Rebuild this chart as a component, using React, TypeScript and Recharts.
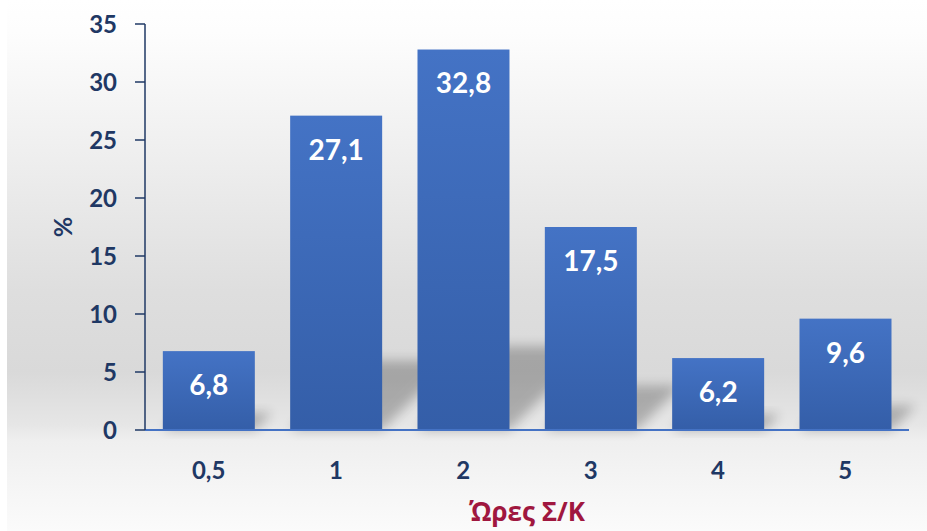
import React from "react";
import { BarChart, Bar, XAxis, YAxis, LabelList } from "recharts";

const hours = ["0,5", "1", "2", "3", "4", "5"];
const percentages = [6.8, 27.1, 32.8, 17.5, 6.2, 9.6];
const yTicks = [0, 5, 10, 15, 20, 25, 30, 35];

const data = hours.map((h, i) => ({ hours: h, pct: percentages[i] }));

const NAVY = "#1f3864";
const FONT = "Lato, 'Open Sans', sans-serif";

// bar with a soft floor shadow cast to the back-right
const ShadowBar = (props: any) => {
  const { x, y, width, height } = props;
  if (!height || height <= 0) return null;
  const base = y + height;
  const d = height * 0.22;
  const pts = `${x},${base} ${x + width},${base} ${x + width + d},${base - d} ${x + d},${base - d}`;
  return (
    <g>
      <polygon points={pts} fill="#000" opacity={0.24} filter="url(#shadowBlur)" />
      <rect x={x} y={y} width={width} height={height} fill="url(#barFill)" />
    </g>
  );
};

export default function App() {
  return (
    <div
      style={{
        position: "absolute",
        left: 0,
        top: 0,
        width: 927,
        height: 531,
        background:
          "linear-gradient(to right, #fff 7px, transparent 7px), linear-gradient(to bottom, #ffffff 0%, #fdfdfd 6%, #eeeeee 30%, #dedede 55%, #d9d9d9 70%, #e6e6e6 80%, #efefef 83%, #fbfbfb 100%)",
      }}
    >
      <BarChart
        width={927}
        height={531}
        data={data}
        margin={{ top: 24, right: 18, left: 0, bottom: 0 }}
        barCategoryGap="14%"
      >
        <defs>
          <linearGradient id="barFill" x1="0" y1="0" x2="0" y2="1">
            <stop offset="0%" stopColor="#4473c5" />
            <stop offset="100%" stopColor="#345ea8" />
          </linearGradient>
          <filter id="shadowBlur" x="-50%" y="-50%" width="200%" height="200%">
            <feGaussianBlur stdDeviation="6" />
          </filter>
        </defs>
        <XAxis
          dataKey="hours"
          height={101}
          axisLine={{ stroke: "#4472c4", strokeWidth: 2 }}
          tickLine={false}
          tickSize={0}
          tickMargin={32}
          tick={{ fill: NAVY, fontSize: 24, fontWeight: 700, fontFamily: FONT }}
          label={{
            content: ({ viewBox }: any) => (
              <text
                x={viewBox.x + viewBox.width / 2}
                y={viewBox.y + viewBox.height - 10}
                textAnchor="middle"
                fill="#a0173f"
                fontSize={26}
                fontWeight={700}
                fontFamily="'Open Sans', sans-serif"
              >
                Ώρες Σ/Κ
              </text>
            ),
          }}
        />
        <YAxis
          width={145}
          domain={[0, 35]}
          ticks={yTicks}
          interval={0}
          axisLine={{ stroke: NAVY, strokeWidth: 1.5 }}
          tickLine={{ stroke: NAVY, strokeWidth: 1.5 }}
          tickSize={10}
          tickMargin={18}
          tick={{ fill: NAVY, fontSize: 24, fontWeight: 700, fontFamily: FONT }}
          label={{
            content: ({ viewBox }: any) => {
              const cx = viewBox.x + 62;
              const cy = viewBox.y + viewBox.height / 2;
              return (
                <text
                  x={cx}
                  y={cy}
                  transform={`rotate(-90, ${cx}, ${cy})`}
                  textAnchor="middle"
                  dominantBaseline="central"
                  fill={NAVY}
                  fontSize={25}
                  fontWeight={700}
                  fontFamily={FONT}
                >
                  %
                </text>
              );
            },
          }}
        />
        <Bar dataKey="pct" shape={ShadowBar} isAnimationActive={false}>
          <LabelList
            dataKey="pct"
            position="insideTop"
            offset={24}
            formatter={(v: any) => String(v).replace(".", ",")}
            fill="#ffffff"
            fontSize={28}
            fontWeight={700}
            fontFamily={FONT}
          />
        </Bar>
      </BarChart>
    </div>
  );
}
